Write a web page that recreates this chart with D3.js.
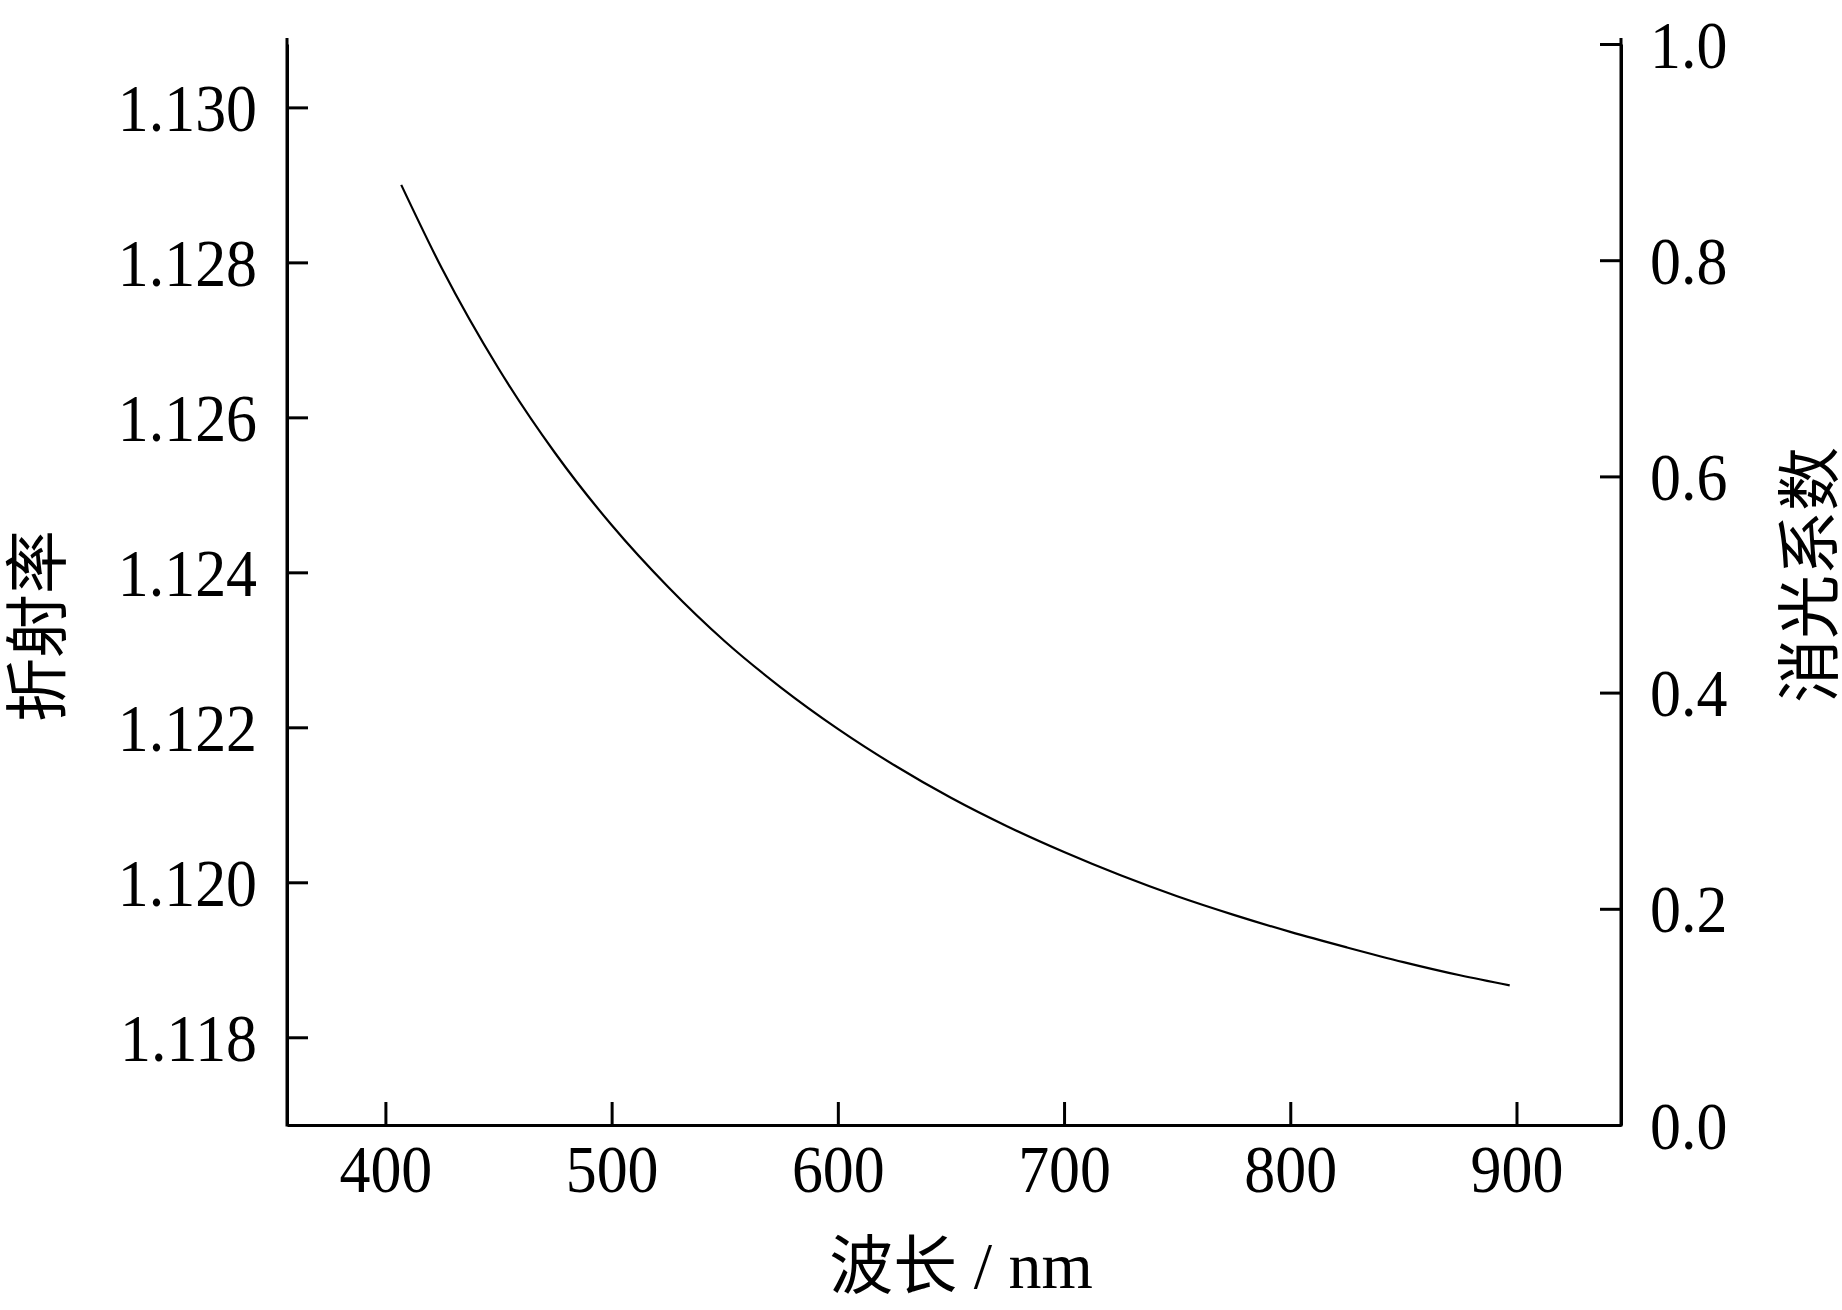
<!DOCTYPE html>
<html><head><meta charset="utf-8">
<script src="https://cdn.jsdelivr.net/npm/d3@7"></script>
<style>body{margin:0;background:#fff}svg{display:block}</style>
</head><body>
<script>
// data
const wavelengths = [407, 425, 450, 475, 500, 525, 550, 575, 600, 625, 650, 675, 700, 725, 750, 775, 800, 825, 850, 875, 897];
const refractiveIndex = [1.12900, 1.12792, 1.12663, 1.12554, 1.12461, 1.12381, 1.12311, 1.12251, 1.12198, 1.12151, 1.12109, 1.12072, 1.12039, 1.12009, 1.11982, 1.11958, 1.11936, 1.11916, 1.11897, 1.11880, 1.11867];
const xTicks = [400, 500, 600, 700, 800, 900];
const leftTicks = [1.118, 1.120, 1.122, 1.124, 1.126, 1.128, 1.130];
const rightTicks = [0.0, 0.2, 0.4, 0.6, 0.8, 1.0];
const xTitleCjk = "波长";
const xTitleUnit = " / nm";
const leftTitle = "折射率";
const rightTitle = "消光系数";

const W = 1842, H = 1310;
const L = 287, R = 1621, T = 44, B = 1125;
const serif = "'Liberation Serif','Times New Roman',serif";
const cjk = "'Noto Sans CJK SC','Noto Sans CJK JP',sans-serif";
const tickFont = 68, squeeze = 0.91;

const svg = d3.select("body").append("svg").attr("width", W).attr("height", H);

const x = d3.scaleLinear().domain([356.5, 946.2]).range([L, R]);
const yL = d3.scaleLinear().domain([1.116868, 1.130818]).range([B, T]);
const yR = d3.scaleLinear().domain([0, 1.0]).range([B, T]);

const sw = 3;
const gx = svg.append("g").attr("transform", `translate(0,${B})`)
  .call(d3.axisBottom(x).tickValues(xTicks).tickSizeInner(-23).tickSizeOuter(0).tickFormat(d3.format("d")));
const gl = svg.append("g").attr("transform", `translate(${L},0)`)
  .call(d3.axisLeft(yL).tickValues(leftTicks).tickSizeInner(-21).tickSizeOuter(0).tickFormat(d3.format(".3f")));
const gr = svg.append("g").attr("transform", `translate(${R},0)`)
  .call(d3.axisRight(yR).tickValues(rightTicks).tickSizeInner(-21).tickSizeOuter(0).tickFormat(d3.format(".1f")));

[gx, gl, gr].forEach(g => {
  g.select(".domain").attr("stroke", "#000").attr("stroke-width", sw);
  g.selectAll(".tick line").attr("stroke", "#000").attr("stroke-width", sw);
  g.selectAll(".tick text").attr("font-family", serif).attr("font-size", tickFont).attr("fill", "#000")
    .attr("x", 0).attr("y", 0).attr("dy", null);
});
gx.selectAll(".tick text").attr("text-anchor", "middle").attr("transform", `translate(0,67) scale(${squeeze},1)`);
gl.selectAll(".tick text").attr("text-anchor", "end").attr("transform", `translate(-30,23) scale(${squeeze},1)`);
gr.selectAll(".tick text").attr("text-anchor", "start").attr("transform", `translate(29,23) scale(${squeeze},1)`);

// axis lines reaching the frame corners
svg.append("line").attr("x1", L).attr("x2", L).attr("y1", T - 6).attr("y2", B + 1.5).attr("stroke", "#000").attr("stroke-width", sw);
svg.append("line").attr("x1", R).attr("x2", R).attr("y1", T - 6).attr("y2", B + 1.5).attr("stroke", "#000").attr("stroke-width", sw);

// curve
const pts = wavelengths.map((w, i) => [w, refractiveIndex[i]]);
svg.append("path").datum(pts)
  .attr("fill", "none").attr("stroke", "#000").attr("stroke-width", 2.2)
  .attr("d", d3.line().x(d => x(d[0])).y(d => yL(d[1])).curve(d3.curveMonotoneX));

// titles
const xt = svg.append("text").attr("x", 961).attr("y", 1288).attr("text-anchor", "middle")
  .attr("font-size", 64).attr("fill", "#000");
xt.append("tspan").attr("font-family", cjk).text(xTitleCjk);
xt.append("tspan").attr("font-family", serif).attr("font-size", 66).text(xTitleUnit);

svg.append("text").attr("transform", "translate(60,626) rotate(-90)").attr("text-anchor", "middle")
  .attr("font-family", cjk).attr("font-size", 64).attr("fill", "#000").text(leftTitle);
svg.append("text").attr("transform", "translate(1832,575) rotate(-90)").attr("text-anchor", "middle")
  .attr("font-family", cjk).attr("font-size", 64).attr("fill", "#000").text(rightTitle);
</script>
</body></html>
